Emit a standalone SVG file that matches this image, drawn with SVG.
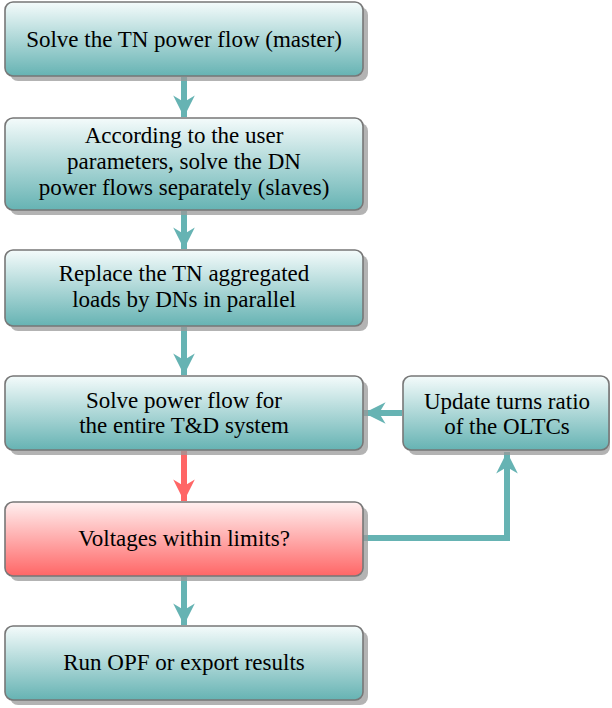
<svg xmlns="http://www.w3.org/2000/svg" width="612" height="708" viewBox="0 0 612 708">
<style>
text{font-family:"Liberation Serif",serif !important;font-size:23px;text-anchor:middle;fill:#000}
.sh{fill:#999;opacity:0.75}
.bx{stroke:#777;stroke-width:1.6}
.c{fill:none;stroke-width:6}
</style>
<defs>
<linearGradient id="gt" x1="0" y1="0" x2="0" y2="1"><stop offset="0" stop-color="#f4fbfb"/><stop offset="1" stop-color="#66b3b3"/></linearGradient>
<linearGradient id="gr" x1="0" y1="0" x2="0" y2="1"><stop offset="0" stop-color="#fff0f0"/><stop offset="1" stop-color="#ff6666"/></linearGradient>
<marker id="at" viewBox="0 0 10 10" refX="10" refY="5" markerWidth="3.6" markerHeight="3.6" orient="auto" markerUnits="strokeWidth"><path d="M0,0 L10,5 L0,10 L3,5 Z" fill="#66b3b3"/></marker>
<marker id="ar" viewBox="0 0 10 10" refX="10" refY="5" markerWidth="3.6" markerHeight="3.6" orient="auto" markerUnits="strokeWidth"><path d="M0,0 L10,5 L0,10 L3,5 Z" fill="#ff6666"/></marker>
</defs>
<g id="connectors">
<line class="c" x1="184" y1="77" x2="184" y2="117" stroke="#66b3b3" marker-end="url(#at)"/>
<line class="c" x1="184" y1="211" x2="184" y2="249" stroke="#66b3b3" marker-end="url(#at)"/>
<line class="c" x1="184" y1="327" x2="184" y2="375" stroke="#66b3b3" marker-end="url(#at)"/>
<line class="c" x1="184" y1="451" x2="184" y2="501" stroke="#ff6666" marker-end="url(#ar)"/>
<line class="c" x1="184" y1="577" x2="184" y2="625" stroke="#66b3b3" marker-end="url(#at)"/>
<line class="c" x1="402" y1="413" x2="364" y2="413" stroke="#66b3b3" marker-end="url(#at)"/>
<polyline class="c" points="363,538 507,538 507,452" stroke="#66b3b3" marker-end="url(#at)"/>
</g>
<g id="n1"><rect class="sh" x="10" y="7" width="358" height="74" rx="8"/><rect class="bx" x="5" y="2" width="358" height="74" rx="8" fill="url(#gt)"/><text style="font-family:'Liberation Serif'" x="184" y="47">Solve the TN power flow (master)</text></g>
<g id="n2"><rect class="sh" x="10" y="123" width="358" height="92" rx="8"/><rect class="bx" x="5" y="118" width="358" height="92" rx="8" fill="url(#gt)"/><text style="font-family:'Liberation Serif'" x="184" y="143">According to the user</text><text style="font-family:'Liberation Serif'" x="184" y="169">parameters, solve the DN</text><text style="font-family:'Liberation Serif'" x="184" y="195">power flows separately (slaves)</text></g>
<g id="n3"><rect class="sh" x="10" y="255" width="358" height="76" rx="8"/><rect class="bx" x="5" y="250" width="358" height="76" rx="8" fill="url(#gt)"/><text style="font-family:'Liberation Serif'" x="184" y="281">Replace the TN aggregated</text><text style="font-family:'Liberation Serif'" x="184" y="307">loads by DNs in parallel</text></g>
<g id="n4"><rect class="sh" x="10" y="381" width="358" height="74" rx="8"/><rect class="bx" x="5" y="376" width="358" height="74" rx="8" fill="url(#gt)"/><text style="font-family:'Liberation Serif'" x="184" y="408">Solve power flow for</text><text style="font-family:'Liberation Serif'" x="184" y="433">the entire T&amp;D system</text></g>
<g id="n5"><rect class="sh" x="408" y="381" width="202" height="74" rx="8"/><rect class="bx" x="403" y="376" width="206" height="74" rx="8" fill="url(#gt)"/><text style="font-family:'Liberation Serif'" x="507" y="409">Update turns ratio</text><text style="font-family:'Liberation Serif'" x="507" y="434">of the OLTCs</text></g>
<g id="n6"><rect class="sh" x="10" y="507" width="358" height="74" rx="8"/><rect class="bx" x="5" y="502" width="358" height="74" rx="8" fill="url(#gr)"/><text style="font-family:'Liberation Serif'" x="184" y="546">Voltages within limits?</text></g>
<g id="n7"><rect class="sh" x="10" y="631" width="358" height="74" rx="8"/><rect class="bx" x="5" y="626" width="358" height="74" rx="8" fill="url(#gt)"/><text style="font-family:'Liberation Serif'" x="184" y="670">Run OPF or export results</text></g>
</svg>
